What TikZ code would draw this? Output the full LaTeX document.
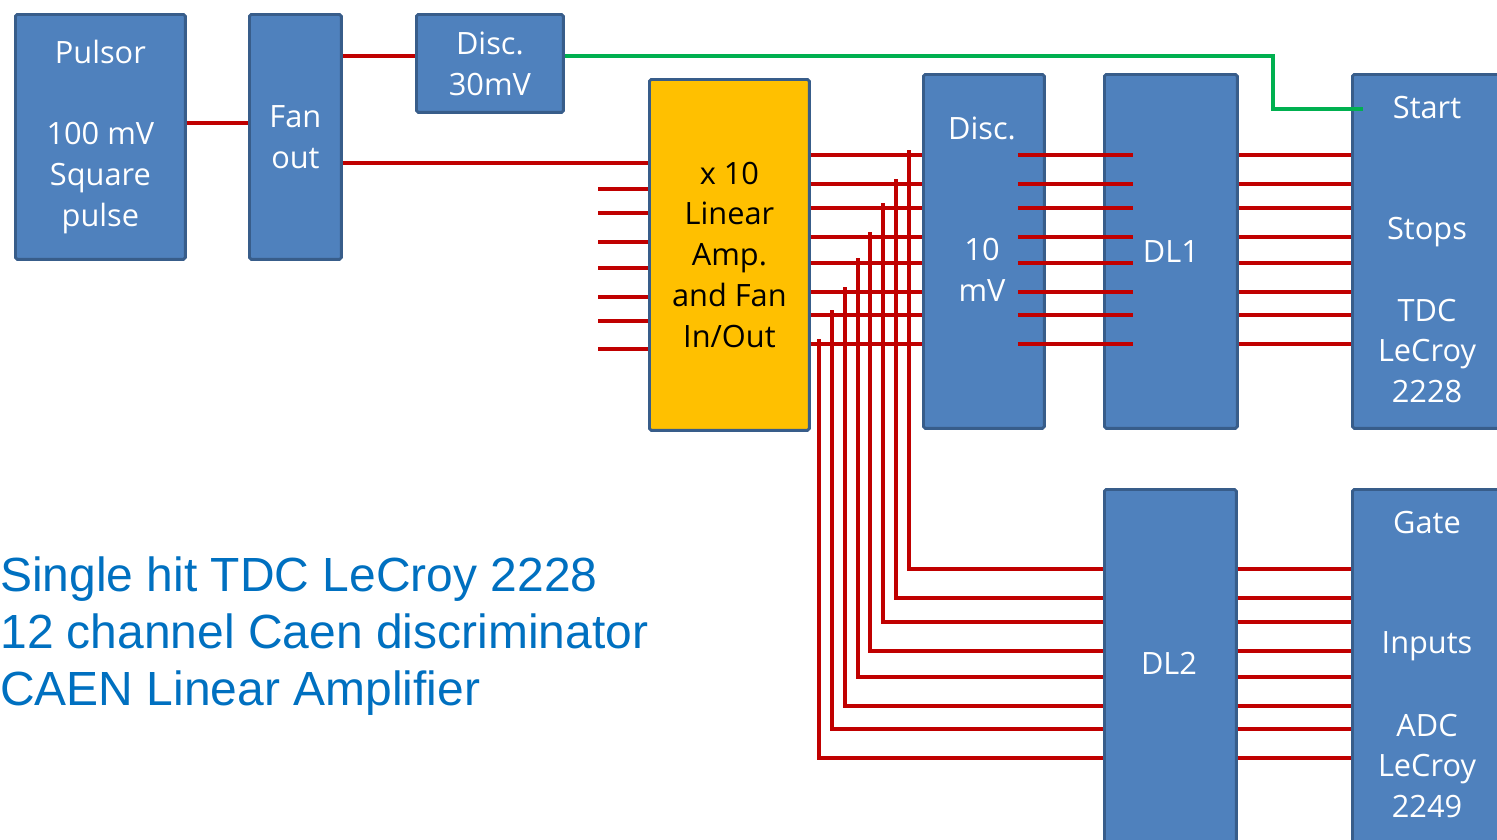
\documentclass[tikz,border=0pt]{standalone}
\usepackage{fontspec}
\setmainfont{Open Sans}
\newfontfamily\notefont{Liberation Sans}
\usetikzlibrary{positioning}

\definecolor{boxblue}{HTML}{4F81BD}
\definecolor{boxedge}{HTML}{385D8A}
\definecolor{ampyellow}{HTML}{FFC000}
\definecolor{wirered}{HTML}{C00000}
\definecolor{wiregreen}{HTML}{00B050}
\definecolor{noteblue}{HTML}{0070C0}

\begin{document}
\begin{tikzpicture}[x=0.02cm, y=-0.02cm,
  unit/.style={draw=boxedge, fill=boxblue, line width=1.6pt, rounded corners=1pt, anchor=north west, align=center, text=white, font=\fontsize{17.5}{23.3}\selectfont, inner sep=0pt},
  amp/.style={unit, fill=ampyellow, text=black},
  txt/.style={text=white, font=\fontsize{17.5}{23.3}\selectfont, align=center, inner sep=0pt},
  wire/.style={draw=wirered, line width=2.3pt},
  trig/.style={draw=wiregreen, line width=1.8pt},
  note/.style={text=noteblue, font=\notefont\fontsize{27.3}{32.4}\selectfont, align=left, anchor=west, inner sep=0pt}]
\useasboundingbox (0,0) rectangle (1497,839);
\clip (0,0) rectangle (1497,839);
% modules
\node[unit, minimum width=3.4cm, minimum height=4.9cm] (pulsor) at (14,13) {Pulsor\\[23.3pt]100 mV\\Square\\pulse};
\node[unit, minimum width=1.84cm, minimum height=4.9cm] (fan) at (248,13) {Fan\\out};
\node[unit, minimum width=2.94cm, minimum height=1.96cm] (disca) at (415,13) {Disc.\\30mV};
\node[amp, minimum width=3.2cm, minimum height=7.02cm] (lamp) at (648,78) {x 10\\Linear\\Amp.\\and Fan\\In/Out};
\node[unit, minimum width=2.42cm, minimum height=7.08cm] (discb) at (922,73) {};
\node[unit, minimum width=2.66cm, minimum height=7.08cm] (dla) at (1103,73) {DL1};
\node[unit, minimum width=3.1cm, minimum height=7.08cm] (tdc) at (1351,73) {};
\node[unit, minimum width=2.64cm, minimum height=7.5cm] (dlb) at (1103,488) {};
\node[unit, minimum width=3.1cm, minimum height=7.5cm] (adc) at (1351,488) {};
% labels inside modules
\node[txt] (discbhead) at (982,128) {Disc.};
\node[txt] (discbval) at (982,270) {10\\mV};
\node[txt] (tdcstart) at (1427,108) {Start};
\node[txt] (tdcstops) at (1427,232) {Stops};
\node[txt] (tdcname) at (1427,351) {TDC\\LeCroy\\2228};
\node[txt] (dlbname) at (1169,663) {DL2};
\node[txt] (adcgate) at (1427,523) {Gate};
\node[txt] (adcin) at (1427,646) {Inputs};
\node[txt] (adcname) at (1427,766) {ADC\\LeCroy\\2249};
% single wires
\draw[wire] (pulsor.east |- 0,123) -- (fan.west |- 0,123);
\draw[wire] (fan.east |- 0,56) -- (disca.west |- 0,56);
\draw[wire] (fan.east |- 0,163) -- (lamp.west |- 0,163);
\coordinate (start) at (1363,109);
\draw[trig] (disca.east |- 0,56) -| (1273,109) -- (start);
% other amp inputs
\foreach \y in {189,213,242,268,297,321,349}
  \draw[wire] (lamp.west |- 0,\y) -- ++(-50,0);
% eight channels
\foreach \y [count=\k from 0] in {155,184,208,237,263,292,315,344} {
  \draw[wire] (lamp.east |- 0,\y) -- (discb.west |- 0,\y);
  \draw[wire] (909-12.86*\k,\y-5) |- (dlb.west |- 0,\y+414);
  \draw[wire] (discb.east |- 0,\y) ++(-28,0) -- ++(115,0);
  \draw[wire] (dla.east |- 0,\y) -- (tdc.west |- 0,\y);
  \draw[wire] (dlb.east |- 0,\y+414) -- (adc.west |- 0,\y+414);
}
\node[note] (notes) at (0,636) {Single hit TDC LeCroy 2228\\12 channel Caen discriminator\\CAEN Linear Amplifier};
\end{tikzpicture}
\end{document}
